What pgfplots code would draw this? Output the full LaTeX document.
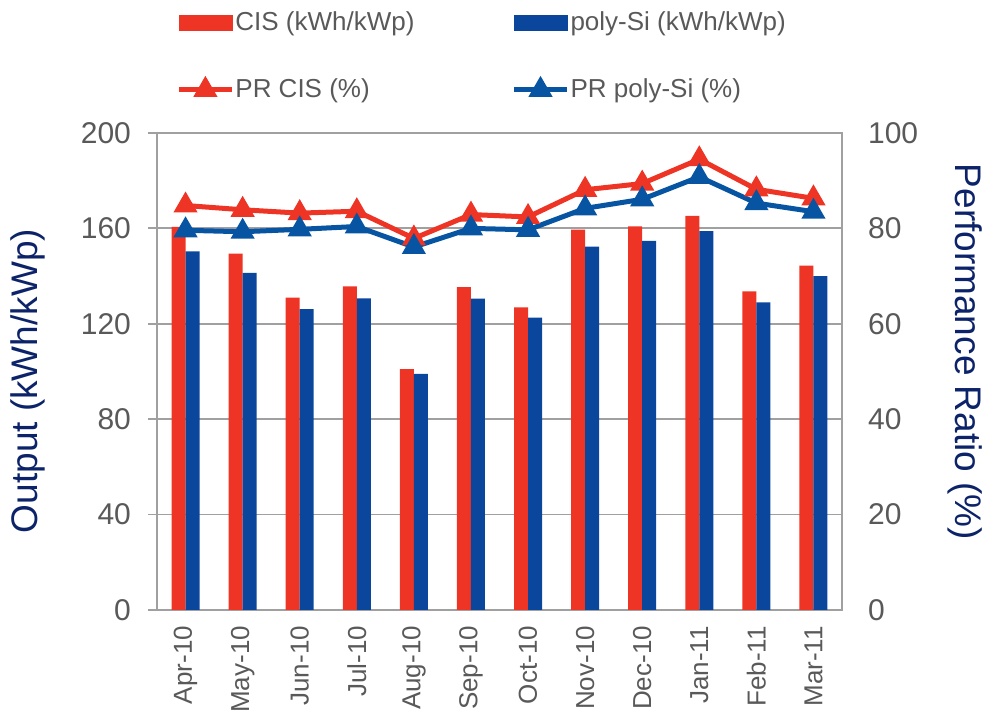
\documentclass[border=0pt]{standalone}
\usepackage{fontspec}
\setmainfont{Liberation Sans}
\usepackage{pgfplots}
\usepackage{pgfplotstable}
\pgfplotsset{compat=1.18}

\definecolor{cisred}{HTML}{EE3424}
\definecolor{polybar}{HTML}{0A469B}
\definecolor{polyline}{HTML}{0754A3}
\definecolor{navy}{HTML}{0C2369}
\definecolor{txtgray}{HTML}{595959}
\definecolor{gridgray}{HTML}{A0A0A0}

% monthly output, kWh/kWp
\pgfplotstableread{
x  cis    poly
0  160.6  150.4
1  149.4  141.4
2  131.0  126.1
3  135.7  130.7
4  101.0  99.0
5  135.4  130.6
6  126.9  122.6
7  159.5  152.4
8  160.8  154.8
9  165.3  158.9
10 133.6  129.0
11 144.4  140.0
}\outputtab

% performance ratio, %
\pgfplotstableread{
x  cis   poly
0  84.8  79.6
1  83.9  79.3
2  83.2  79.8
3  83.6  80.4
4  77.9  76.1
5  82.9  80.0
6  82.4  79.7
7  88.1  84.2
8  89.4  86.1
9  94.5  90.8
10 88.2  85.3
11 86.3  83.5
}\prtab

\pgfplotsset{
  common/.style={
    scale only axis, width=342.5pt, height=238.5pt,
    xmin=-0.5, xmax=11.5,
    /pgf/number format/assume math mode=true,
    tick label style={text=txtgray},
    yticklabel style={font=\fontsize{15}{18}\selectfont},
    label style={font=\fontsize{18.5}{22}\selectfont, text=navy},
  },
  barleg/.style={legend image code/.code={%
    \fill[#1] (0pt,-3.75pt) rectangle (26.5pt,3.75pt);}},
  lineleg/.style={legend image code/.code={%
    \draw[mark repeat=2,mark phase=2] plot coordinates {(0pt,0pt) (13.25pt,0pt) (26.5pt,0pt)};}},
}

\begin{document}
\begin{tikzpicture}
\useasboundingbox (-78.5pt,-52.5pt) rectangle (416pt,305pt);
\begin{axis}[
  common,
  ymin=0, ymax=200,
  ytick={0,40,...,200},
  xtick={0,...,11},
  xticklabels={Apr-10,May-10,Jun-10,Jul-10,Aug-10,Sep-10,Oct-10,Nov-10,Dec-10,Jan-11,Feb-11,Mar-11},
  xticklabel style={rotate=90, anchor=east, font=\fontsize{13}{15}\selectfont},
  xtick style={draw=none},
  ytick pos=left,
  tick align=outside,
  major tick length=4.5pt,
  ytick style={gridgray, line width=0.9pt},
  axis line style={gridgray, line width=0.9pt},
  ymajorgrids,
  grid style={gridgray, line width=0.9pt},
  yticklabel style={xshift=-5pt},
  ylabel={Output (kWh/kWp)},
  ylabel style={at={(axis description cs:-0.188,0.48)}, anchor=center},
  ybar=0pt, bar width=7pt,
]
\addplot[fill=cisred, draw=none] table[x=x, y=cis] {\outputtab};
\addplot[fill=polybar, draw=none] table[x=x, y=poly] {\outputtab};
\end{axis}

\begin{axis}[
  common,
  ymin=0, ymax=100,
  ytick={0,20,...,100},
  axis y line*=right,
  axis x line=none,
  ytick style={draw=none},
  axis line style={gridgray, line width=0.9pt},
  yticklabel style={xshift=9.5pt},
  ylabel={Performance Ratio (\%)},
  ylabel style={at={(axis description cs:1.18,0.541)}, anchor=center, rotate=180},
  legend columns=2,
  legend cell align=left,
  legend style={at={(axis description cs:0.019,1.271)}, anchor=north west,
    draw=none, fill=none, text=txtgray, font=\fontsize{13}{15}\selectfont,
    row sep=18.5pt,
    /tikz/every odd column/.append style={column sep=-1.5pt},
    /tikz/every even column/.append style={column sep=46.5pt}},
]
\addlegendimage{barleg=cisred}
\addlegendimage{barleg=polybar}
\addplot[cisred, line width=2.5pt, mark=triangle*, mark size=4.5pt, lineleg] table[x=x, y=cis] {\prtab};
\addplot[polyline, line width=2.5pt, mark=triangle*, mark size=4.5pt, lineleg] table[x=x, y=poly] {\prtab};
\legend{CIS (kWh/kWp), poly-Si (kWh/kWp), PR CIS (\%), PR poly-Si (\%)}
\end{axis}
\end{tikzpicture}
\end{document}
